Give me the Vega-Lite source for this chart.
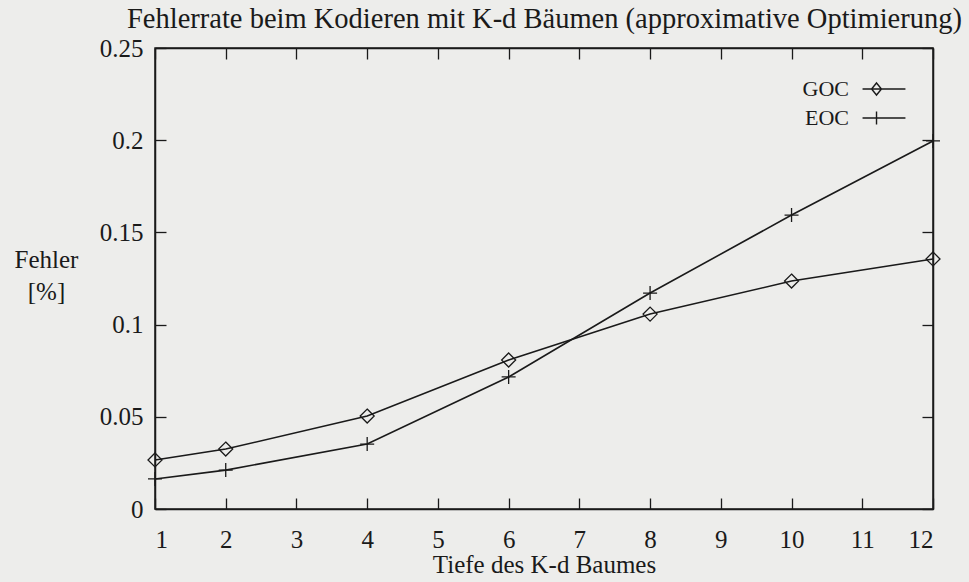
{
  "$schema": "https://vega.github.io/schema/vega-lite/v6.json",
  "width": 778,
  "height": 461,
  "autosize": {"type": "none"},
  "padding": {"left": 155, "top": 48, "right": 36, "bottom": 73},
  "background": "#ededeb",
  "title": {
    "text": "Fehlerrate beim Kodieren mit K-d Bäumen (approximative Optimierung)",
    "anchor": "start",
    "frame": "group",
    "baseline": "alphabetic",
    "offset": -20,
    "dx": -28,
    "font": "Liberation Serif",
    "fontSize": 28.5,
    "fontWeight": "normal",
    "color": "#1a1a1a"
  },
  "config": {
    "view": {"stroke": "#1a1a1a", "strokeWidth": 1.5},
    "axis": {
      "grid": false,
      "domainColor": "#1a1a1a",
      "domainWidth": 1.5,
      "tickColor": "#1a1a1a",
      "tickWidth": 1.3,
      "tickSize": -11,
      "labelFont": "Liberation Serif",
      "labelFontSize": 25,
      "labelColor": "#1a1a1a",
      "titleFont": "Liberation Serif",
      "titleFontSize": 25,
      "titleFontWeight": "normal",
      "titleColor": "#1a1a1a"
    }
  },
  "data": {
    "values": [
      {"depth": 1, "series": "GOC", "error": 0.0266},
      {"depth": 2, "series": "GOC", "error": 0.0325},
      {"depth": 4, "series": "GOC", "error": 0.0504},
      {"depth": 6, "series": "GOC", "error": 0.0808},
      {"depth": 8, "series": "GOC", "error": 0.1057},
      {"depth": 10, "series": "GOC", "error": 0.1236},
      {"depth": 12, "series": "GOC", "error": 0.1356},
      {"depth": 1, "series": "EOC", "error": 0.0163},
      {"depth": 2, "series": "EOC", "error": 0.0211},
      {"depth": 4, "series": "EOC", "error": 0.0352},
      {"depth": 6, "series": "EOC", "error": 0.0716},
      {"depth": 8, "series": "EOC", "error": 0.1171},
      {"depth": 10, "series": "EOC", "error": 0.1594},
      {"depth": 12, "series": "EOC", "error": 0.1996}
    ]
  },
  "resolve": {"axis": {"x": "independent", "y": "independent"}, "scale": {"shape": "independent"}},
  "layer": [
    {
      "mark": {"type": "line", "stroke": "#1a1a1a", "strokeWidth": 1.6},
      "encoding": {
        "x": {
          "field": "depth", "type": "quantitative",
          "scale": {"domain": [1, 12], "nice": false, "zero": false},
          "axis": {"values": [1,2,3,4,5,6,7,8,9,10,11,12], "labelPadding": 29, "title": "Tiefe des K-d Baumes", "titlePadding": 0}
        },
        "y": {
          "field": "error", "type": "quantitative",
          "scale": {"domain": [0, 0.25], "nice": false},
          "axis": {
            "values": [0, 0.05, 0.1, 0.15, 0.2, 0.25], "format": "~g", "labelPadding": 23,
            "title": ["Fehler", "[%]"], "titleAngle": 0, "titleAlign": "center", "titleBaseline": "top",
            "titleX": -109, "titleY": 199, "titleLineHeight": 32
          }
        },
        "detail": {"field": "series"}
      }
    },
    {
      "mark": {"type": "point", "filled": false, "stroke": "#1a1a1a", "strokeWidth": 1.3, "size": 196, "opacity": 1},
      "encoding": {
        "x": {
          "field": "depth", "type": "quantitative",
          "axis": {"orient": "top", "values": [1,2,3,4,5,6,7,8,9,10,11,12], "labels": false, "title": null}
        },
        "y": {
          "field": "error", "type": "quantitative",
          "axis": {"orient": "right", "values": [0, 0.05, 0.1, 0.15, 0.2, 0.25], "labels": false, "title": null}
        },
        "shape": {
          "field": "series", "type": "nominal",
          "scale": {"domain": ["GOC", "EOC"], "range": ["M0,-1L1,0L0,1L-1,0Z", "M-1,0H1M0,-1V1"]},
          "legend": null
        }
      }
    },
    {
      "transform": [{"filter": "false"}],
      "mark": {"type": "point", "filled": false, "stroke": "#1a1a1a", "strokeWidth": 1.4, "size": 484, "opacity": 1},
      "encoding": {
        "x": {"field": "depth", "type": "quantitative", "axis": null},
        "y": {"field": "error", "type": "quantitative", "axis": null},
        "shape": {
          "field": "series", "type": "nominal",
          "scale": {"domain": ["GOC", "EOC"], "range": ["M-1.95,0H1.95M-0.68,-0.55L-0.23,0L-0.68,0.55L-1.13,0Z", "M-1.95,0H1.95M-0.68,-0.6V0.6"]},
          "legend": {
            "title": null,
            "orient": "none",
            "legendX": 717,
            "legendY": 29,
            "symbolSize": 484,
            "symbolStrokeWidth": 1.4,
            "labelAlign": "right",
            "labelOffset": -47,
            "labelFont": "Liberation Serif",
            "labelFontSize": 22,
            "labelColor": "#1a1a1a",
            "rowPadding": 6
          }
        }
      }
    }
  ]
}
